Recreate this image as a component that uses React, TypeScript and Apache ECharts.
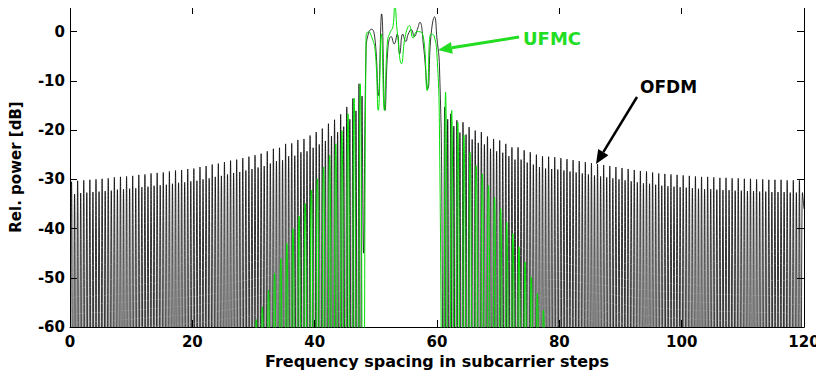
import React, { useEffect, useRef } from "react";
import * as echarts from "echarts";

// ---- axis setup ----
const X_MIN = 0;
const X_MAX = 120;
const X_STEP = 20;
const Y_MIN = -60;
const Y_MAX = 5;
const Y_STEP = 10;
const NULL_DB = -110; // spectral nulls fall far below the visible range
const OFDM_SECOND_LOBE_DROP = 2.5; // the in-between lobe sits a little lower

// ---- OFDM (black) ----
// sidelobe peak levels per subcarrier step 0..47
const ofdmLeftPeaks = [
  -30.5, -30.3, -30.2, -30.1, -30.0, -29.9, -29.8, -29.6, -29.5, -29.4,
  -29.3, -29.1, -29.0, -28.8, -28.7, -28.6, -28.4, -28.2, -28.1, -27.9,
  -27.8, -27.5, -27.3, -27.0, -26.8, -26.5, -26.2, -26.0, -25.7, -25.4,
  -25.1, -24.8, -24.3, -23.8, -23.6, -22.8, -22.7, -22.0, -21.8, -21.1,
  -20.4, -19.7, -18.7, -17.9, -16.8, -15.3, -13.6, -10.6,
];
// in-band trace
const ofdmBandX = [
  48.0, 48.4, 48.8, 49.3, 49.9, 50.4, 50.95, 51.5, 52.0, 52.5, 53.0, 53.5,
  53.9, 54.4, 54.9, 55.3, 55.8, 56.3, 56.8, 57.2, 57.8, 58.5, 59.0, 59.6,
  60.0, 60.4, 60.8,
];
const ofdmBandY = [
  -45, -4, -0.3, 0.5, -2, -13, 3.6, -16, -3, -1, -2.5, -0.5,
  -4.5, -0.5, -2, -0.5, 0.4, -1, 0.5, 1.9, -3, -11.6, -1, 3,
  -1.5, -7, -35,
];
// sidelobe peak levels per subcarrier step 61..119
const ofdmRightPeaks = [
  -15.3, -16.7, -18.0, -18.4, -19.4, -20.1, -20.4, -21.3, -21.8, -22.1,
  -22.8, -23.5, -23.5, -24.1, -24.5, -25.0, -25.3, -25.4, -25.5, -25.7,
  -25.9, -26.1, -26.3, -26.5, -26.7, -26.9, -27.1, -27.3, -27.5, -27.7,
  -27.9, -28.1, -28.3, -28.4, -28.6, -28.8, -28.9, -29.0, -29.1, -29.2,
  -29.3, -29.4, -29.5, -29.5, -29.6, -29.7, -29.7, -29.8, -29.8, -29.9,
  -29.9, -30.0, -30.0, -30.1, -30.1, -30.1, -30.2, -30.2, -30.2,
];
const ofdmEnd = -36;

// ---- UFMC (green) ----
// sidelobe peak levels per subcarrier step 30..47
const ufmcLeftPeaks = [
  -58.5, -55.9, -52.5, -49.1, -46.1, -43.0, -40.0, -37.5, -34.9, -32.2,
  -29.9, -27.5, -25.1, -22.8, -20.1, -16.7, -13.5, -10.6,
];
const ufmcBandX = [
  48.0, 48.4, 48.8, 49.3, 49.9, 50.4, 50.9, 51.4, 51.9, 52.4, 52.8, 53.1,
  53.5, 54.2, 54.8, 55.5, 56.1, 56.7, 57.6, 58.4, 59.0, 59.5, 60.0, 60.4,
];
const ufmcBandY = [
  NULL_DB, -1, 0, -1, -4, -16, -0.5, -16, -2, 0, 1, 5.5,
  0, -6.5, -1, 1.2, -1.3, 0, -0.3, -12, -0.5, -0.8, -5, -20,
];
// sidelobe peak levels per subcarrier step 61..77
const ufmcRightPeaks = [
  -12.3, -16.0, -18.4, -21.0, -24.5, -27.2, -28.9, -31.2, -33.6, -35.9,
  -38.7, -41.0, -43.7, -46.8, -49.8, -53.2, -56.6,
];

// OFDM: two lobes per subcarrier step
const ofdmLobes = (firstStep: number, peaks: number[]) => {
  const pts: number[][] = [];
  peaks.forEach((p, i) => {
    const k = firstStep + i;
    pts.push([k, NULL_DB], [k + 0.25, p], [k + 0.5, NULL_DB], [k + 0.75, p - OFDM_SECOND_LOBE_DROP]);
  });
  return pts;
};
// UFMC: one lobe per subcarrier step
const ufmcLobes = (firstStep: number, peaks: number[], offset: number) => {
  const pts: number[][] = [];
  peaks.forEach((p, i) => {
    const k = firstStep + i;
    pts.push([k, NULL_DB], [k + offset, p]);
  });
  return pts;
};

const ofdmData = [
  ...ofdmLobes(0, ofdmLeftPeaks),
  ...ofdmBandX.map((x, i) => [x, ofdmBandY[i]]),
  ...ofdmLobes(61, ofdmRightPeaks),
  [120, ofdmEnd],
];
const ufmcData = [
  ...ufmcLobes(30, ufmcLeftPeaks, 0.45),
  ...ufmcBandX.map((x, i) => [x, ufmcBandY[i]]),
  ...ufmcLobes(61, ufmcRightPeaks, 0.4),
  [78, NULL_DB],
];

const FONT = "'DejaVu Sans', Verdana, sans-serif";

export default function App() {
  const ref = useRef<HTMLDivElement>(null);
  useEffect(() => {
    if (!ref.current) return;
    const chart = echarts.init(ref.current, undefined, { renderer: "svg" });
    const axisCommon = {
      axisLine: { show: true, onZero: false, lineStyle: { color: "#000", width: 1 } },
      axisTick: { show: true, inside: true, length: 7, lineStyle: { color: "#000" } },
      splitLine: { show: false },
    };
    const labelStyle = { color: "#000", fontFamily: FONT, fontWeight: "bold", fontSize: 15 };
    chart.setOption({
      animation: false,
      backgroundColor: "#fff",
      grid: { left: 67, right: 20, top: 7, bottom: 53, show: false },
      xAxis: [
        {
          type: "value",
          min: X_MIN,
          max: X_MAX,
          interval: X_STEP,
          position: "bottom",
          ...axisCommon,
          axisLabel: { ...labelStyle, margin: 7 },
          name: "Frequency spacing in subcarrier steps",
          nameLocation: "middle",
          nameGap: 22,
          nameTextStyle: { color: "#000", fontFamily: FONT, fontWeight: "bold", fontSize: 16 },
        },
        {
          type: "value",
          min: X_MIN,
          max: X_MAX,
          interval: X_STEP,
          position: "top",
          ...axisCommon,
          axisLabel: { show: false },
        },
      ],
      yAxis: [
        {
          type: "value",
          min: Y_MIN,
          max: Y_MAX,
          interval: Y_STEP,
          position: "left",
          ...axisCommon,
          axisLabel: {
            ...labelStyle,
            margin: 5,
            showMaxLabel: false,
            formatter: (v: number) => (v > 0 ? "" : String(v)),
          },
          name: "Rel. power [dB]",
          nameLocation: "middle",
          nameGap: 47,
          nameTextStyle: { color: "#000", fontFamily: FONT, fontWeight: "bold", fontSize: 15 },
        },
        {
          type: "value",
          min: Y_MIN,
          max: Y_MAX,
          interval: Y_STEP,
          position: "right",
          ...axisCommon,
          axisLabel: { show: false },
        },
      ],
      series: [
        {
          name: "OFDM",
          type: "line",
          data: ofdmData,
          showSymbol: false,
          smooth: 0.5,
          clip: true,
          lineStyle: { color: "#000", width: 0.8 },
        },
        {
          name: "UFMC",
          type: "line",
          data: ufmcData,
          showSymbol: false,
          smooth: 0.5,
          clip: true,
          lineStyle: { color: "#00e000", width: 1 },
        },
      ],
      graphic: [
        {
          type: "text",
          left: 523,
          top: 29,
          style: { text: "UFMC", fill: "#22dd22", font: `bold 18px ${FONT}` },
        },
        {
          type: "line",
          shape: { x1: 519, y1: 37, x2: 451.8, y2: 47.8 },
          style: { stroke: "#22dd22", lineWidth: 3 },
        },
        {
          type: "polygon",
          shape: { points: [[438, 50], [452.8, 53.7], [450.9, 41.9]] },
          style: { fill: "#22dd22" },
        },
        {
          type: "text",
          left: 640,
          top: 78,
          style: { text: "OFDM", fill: "#000", font: `bold 17px ${FONT}` },
        },
        {
          type: "line",
          shape: { x1: 637, y1: 97, x2: 603.3, y2: 152.1 },
          style: { stroke: "#000", lineWidth: 2.5 },
        },
        {
          type: "polygon",
          shape: { points: [[596, 164], [608.4, 155.2], [598.2, 149]] },
          style: { fill: "#000" },
        },
      ],
    });
    return () => chart.dispose();
  }, []);
  return <div ref={ref} style={{ width: 824, height: 380, margin: -8 }} />;
}
